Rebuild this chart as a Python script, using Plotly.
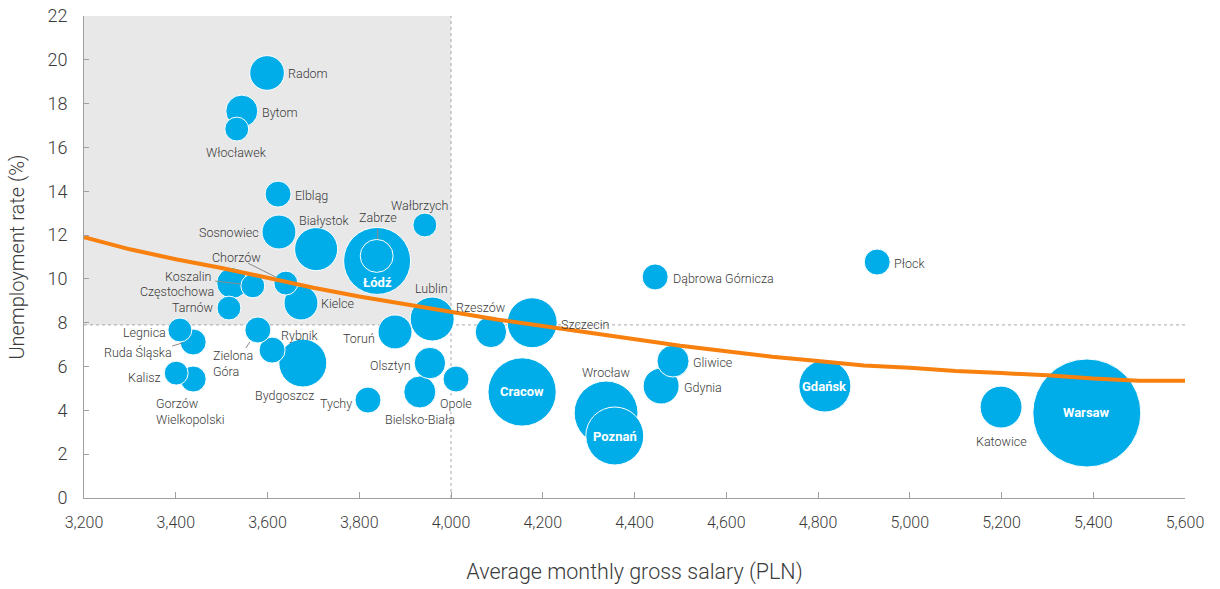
import plotly.graph_objects as go

# City data: average monthly gross salary (PLN), unemployment rate (%),
# and a relative bubble magnitude (Warsaw = 100)
cities = [
    "Warsaw", "Cracow", "Łódź", "Wrocław", "Poznań", "Gdańsk", "Szczecin",
    "Bydgoszcz", "Lublin", "Białystok", "Katowice", "Gdynia", "Radom",
    "Sosnowiec", "Kielce", "Toruń", "Zabrze", "Bytom", "Gliwice",
    "Bielsko-Biała", "Olsztyn", "Rzeszów", "Koszalin", "Elbląg", "Opole",
    "Tychy", "Płock", "Dąbrowa Górnicza", "Rybnik", "Zielona Góra",
    "Ruda Śląska", "Gorzów Wielkopolski", "Włocławek", "Wałbrzych",
    "Chorzów", "Częstochowa", "Tarnów", "Legnica", "Kalisz",
]
salary = [
    5386, 4155, 3839, 4338, 4357, 4815, 4177,
    3677, 3959, 3706, 5199, 4458, 3599,
    3625, 3673, 3878, 3838, 3544, 4484,
    3932, 3954, 4087, 3523, 3623, 4011,
    3819, 4929, 4445, 3610, 3579,
    3438, 3438, 3533, 3943,
    3640, 3568, 3516, 3409, 3401,
]
unemployment = [
    3.88, 4.84, 10.82, 3.88, 2.83, 5.11, 8.0,
    6.16, 8.17, 11.36, 4.15, 5.11, 19.4,
    12.14, 8.9, 7.58, 11.05, 17.66, 6.25,
    4.84, 6.16, 7.58, 9.81, 13.87, 5.43,
    4.47, 10.77, 10.09, 6.75, 7.67,
    7.12, 5.43, 16.84, 12.46,
    9.81, 9.68, 8.67, 7.67, 5.7,
]
bubble_value = [
    100, 40, 38.5, 35, 28.8, 23.2, 21.4,
    19.7, 16.6, 15.9, 15.1, 11.1, 10.3,
    9.9, 9.9, 9.9, 9.3, 8.8, 8.8,
    8.8, 8.5, 8.5, 8.2, 5.8, 5.8,
    5.8, 5.8, 5.8, 5.8, 5.8,
    5.8, 5.8, 4.9, 4.9,
    4.9, 4.9, 4.9, 4.9, 4.9,
]

# Trend line (unemployment vs salary)
trend_salary = [3200, 3300, 3400, 3500, 3600, 3700, 3800, 3900, 4000, 4100,
                4200, 4300, 4400, 4500, 4600, 4700, 4800, 4900, 5000, 5100,
                5200, 5300, 5400, 5500, 5600]
trend_unemployment = [11.9, 11.35, 10.9, 10.5, 10.05, 9.6, 9.2, 8.85, 8.5, 8.15,
                      7.85, 7.55, 7.25, 6.95, 6.7, 6.45, 6.25, 6.05, 5.95, 5.8,
                      5.7, 5.6, 5.45, 5.35, 5.35]

# Reference levels splitting the chart into quadrants
salary_ref = 4000
unemployment_ref = 7.9

x_ticks = list(range(3200, 5601, 200))
y_ticks = list(range(0, 23, 2))

BLUE = "#00ADE9"
ORANGE = "#F7800F"
TEXT = "#3A3A3A"
FONT = "Roboto"
WEIGHT = 300

# Largest bubble (value 100) gets a 54 px radius
MAX_RADIUS = 54

# Draw the largest bubbles first so smaller ones sit on top
order = sorted(range(len(cities)), key=lambda i: -bubble_value[i])

fig = go.Figure()

fig.add_trace(go.Scatter(
    x=[salary[i] for i in order],
    y=[unemployment[i] for i in order],
    mode="markers",
    marker=dict(
        size=[bubble_value[i] for i in order],
        sizemode="area",
        sizeref=100 / (2 * MAX_RADIUS ** 2),
        color=BLUE,
        opacity=1,
        line=dict(color="white", width=1),
    ),
    text=[cities[i] for i in order],
    hoverinfo="text",
    showlegend=False,
))

fig.add_trace(go.Scatter(
    x=trend_salary,
    y=trend_unemployment,
    mode="lines",
    line=dict(color=ORANGE, width=4),
    hoverinfo="skip",
    showlegend=False,
))

# Label placement: (xanchor, xshift px, yshift px)
label_pos = {
    "Radom": ("left", 20, -1),
    "Bytom": ("left", 19, -1),
    "Włocławek": ("center", 0, -23),
    "Elbląg": ("left", 16, -1),
    "Sosnowiec": ("right", -19, 0),
    "Białystok": ("center", 8, 29),
    "Zabrze": ("center", 1, 38),
    "Wałbrzych": ("center", -5, 20),
    "Chorzów": ("center", -49, 26),
    "Koszalin": ("right", -20, 7),
    "Częstochowa": ("right", -38, -6),
    "Tarnów": ("right", -15, 1),
    "Kielce": ("left", 19, 0),
    "Lublin": ("center", -1, 31),
    "Rzeszów": ("left", -36, 24),
    "Toruń": ("right", -19, -7),
    "Szczecin": ("left", 28, -2),
    "Legnica": ("right", -13, -3),
    "Ruda Śląska": ("right", -20, -10),
    "Zielona Góra": ("left", -46, -34),
    "Rybnik": ("left", 8, 15),
    "Bydgoszcz": ("center", -18, -32),
    "Tychy": ("right", -15, -3),
    "Olsztyn": ("right", -18, -2),
    "Bielsko-Biała": ("center", 0, -28),
    "Opole": ("center", 0, -24),
    "Kalisz": ("right", -14, -4),
    "Gorzów Wielkopolski": ("left", -38, -32),
    "Wrocław": ("center", 0, 40),
    "Dąbrowa Górnicza": ("left", 17, -2),
    "Gliwice": ("left", 19, -1),
    "Gdynia": ("left", 22, -1),
    "Płock": ("left", 16, -1),
    "Katowice": ("center", 0, -34),
}
two_line = {"Zielona Góra": "Zielona<br>Góra",
            "Gorzów Wielkopolski": "Gorzów<br>Wielkopolski"}
white_bg = {"Opole"}
inside = {"Łódź": -22, "Cracow": 0, "Poznań": 0, "Gdańsk": 0, "Warsaw": 0}

annotations = []
for i, name in enumerate(cities):
    if name in inside:
        annotations.append(dict(
            x=salary[i], y=unemployment[i], text=f"<b>{name}</b>",
            showarrow=False, xanchor="center", yanchor="middle",
            yshift=inside[name],
            font=dict(family=FONT, size=13, color="white", weight=700),
        ))
        continue
    xa, dx, dy = label_pos[name]
    annotations.append(dict(
        x=salary[i], y=unemployment[i], text=two_line.get(name, name),
        showarrow=False, xanchor=xa, yanchor="middle",
        xshift=dx, yshift=dy, align="left",
        bgcolor="white" if name in white_bg else "rgba(0,0,0,0)",
        borderpad=0,
        font=dict(family=FONT, size=12.5, color=TEXT, weight=WEIGHT),
    ))

# Leader lines: offsets in px relative to the bubble they belong to
leaders = {
    "Zabrze": (1, 27, 1, 17),
    "Chorzów": (-38, 20, -10, 6),
    "Koszalin": (-17, 2, 9, -1),
    "Ruda Śląska": (-21, -4, -11, -1),
    "Zielona Góra": (-12, -18, -8, -12),
}

shapes = [
    dict(type="rect", xref="x", yref="y", x0=3200, x1=salary_ref,
         y0=unemployment_ref, y1=22, fillcolor="#E8E8E8",
         line=dict(width=0), layer="below"),
    dict(type="line", xref="x", yref="y", x0=salary_ref, x1=salary_ref,
         y0=0, y1=22, line=dict(color="#A8A8A8", width=1, dash="dot"),
         layer="below"),
    dict(type="line", xref="x", yref="y", x0=3200, x1=5600,
         y0=unemployment_ref, y1=unemployment_ref,
         line=dict(color="#A8A8A8", width=1, dash="dot"), layer="below"),
]
for name, (x0, y0, x1, y1) in leaders.items():
    i = cities.index(name)
    shapes.append(dict(
        type="line", xref="x", yref="y",
        xsizemode="pixel", ysizemode="pixel",
        xanchor=salary[i], yanchor=unemployment[i],
        x0=x0, x1=x1, y0=y0, y1=y1,
        line=dict(color="#8A8A8A", width=1),
    ))

fig.update_layout(
    width=1220, height=589,
    margin=dict(l=84, r=35, t=16, b=91),
    paper_bgcolor="white",
    plot_bgcolor="white",
    font=dict(family=FONT, color=TEXT, weight=WEIGHT),
    shapes=shapes,
    annotations=annotations,
    xaxis=dict(
        range=[3200, 5600],
        tickvals=x_ticks,
        ticktext=[f"{v:,}" for v in x_ticks],
        ticks="inside", ticklen=6, tickcolor="#A0A0A0",
        showline=True, linecolor="#A0A0A0", linewidth=1,
        showgrid=False, zeroline=False,
        tickfont=dict(family=FONT, size=16, color=TEXT, weight=WEIGHT),
        ticklabelstandoff=10,
        automargin=False,
        title=dict(text="Average monthly gross salary (PLN)",
                   font=dict(family=FONT, size=21.5, color=TEXT, weight=WEIGHT),
                   standoff=32),
    ),
    yaxis=dict(
        range=[0, 22],
        tickvals=y_ticks,
        ticks="inside", ticklen=5, tickcolor="#A0A0A0",
        showline=True, linecolor="#A0A0A0", linewidth=1,
        showgrid=False, zeroline=False,
        tickfont=dict(family=FONT, size=18, color=TEXT, weight=WEIGHT),
        ticklabelstandoff=12,
        automargin=False,
        title=dict(text="Unemployment rate (%)",
                   font=dict(family=FONT, size=20, color=TEXT, weight=WEIGHT),
                   standoff=17),
    ),
)

fig.write_html("out.html")
